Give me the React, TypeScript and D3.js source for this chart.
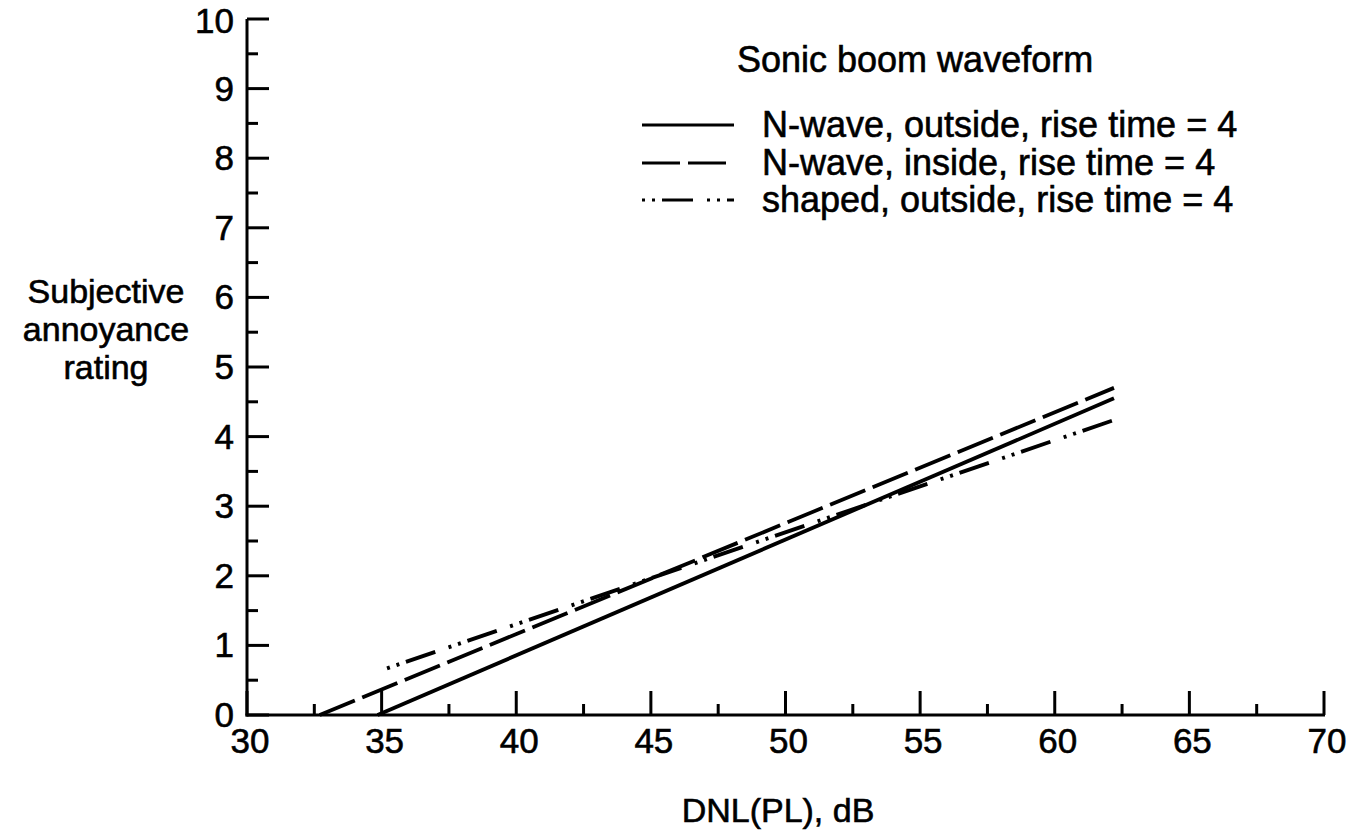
import React from "react";
import * as d3 from "d3";

const xTicks = [30, 35, 40, 45, 50, 55, 60, 65, 70];
const yTicks = [0, 1, 2, 3, 4, 5, 6, 7, 8, 9, 10];
const xMinor = [32.5, 37.5, 42.5, 47.5, 52.5, 57.5, 62.5, 67.5];
const yMinor = [0.5, 1.5, 2.5, 3.5, 4.5, 5.5, 6.5, 7.5, 8.5, 9.5];

const seriesNames = [
  "N-wave, outside, rise time = 4",
  "N-wave, inside, rise time = 4",
  "shaped, outside, rise time = 4",
];
const solidX = [34.85, 62.2];
const solidY = [0, 4.55];
const dashedX = [32.7, 62.2];
const dashedY = [0, 4.7];
const shapedX = [35.2, 62.45];
const shapedY = [0.67, 4.27];

const FONT = "'Liberation Sans', Arial, Helvetica, sans-serif";
const dashes = ["none", "38,8", "3,7,3,7,31,14"];

export default function App() {
  const x = d3.scaleLinear().domain([30, 70]).range([247, 1324]);
  const y = d3.scaleLinear().domain([0, 10]).range([715, 19]);
  const line = d3
    .line<[number, number]>()
    .x((d) => x(d[0]))
    .y((d) => y(d[1]));
  const series = [
    solidX.map((v, i) => [v, solidY[i]] as [number, number]),
    dashedX.map((v, i) => [v, dashedY[i]] as [number, number]),
    shapedX.map((v, i) => [v, shapedY[i]] as [number, number]),
  ];
  const legendY = [125, 163, 200];
  const textStyle = { stroke: "#000", strokeWidth: 0.6 };

  return (
    <svg
      width={1359}
      height={830}
      style={{ position: "absolute", left: 0, top: 0, background: "#fff" }}
      fontFamily={FONT}
    >
      {/* axes */}
      <line x1={x(30)} x2={x(30)} y1={y(0) + 1.5} y2={y(10)} stroke="#000" strokeWidth={3} />
      <line x1={x(30) - 1.5} x2={x(70) + 1} y1={y(0)} y2={y(0)} stroke="#000" strokeWidth={3} />
      {yTicks.map((t) => (
        <g key={"yt" + t}>
          <line x1={x(30)} x2={x(30) + 22} y1={y(t)} y2={y(t)} stroke="#000" strokeWidth={3} />
          <text
            x={234}
            y={Math.max(y(t) + 12, 33)}
            fontSize={35}
            textAnchor="end"
            {...textStyle}
          >
            {t}
          </text>
        </g>
      ))}
      {yMinor.map((t) => (
        <line key={"ym" + t} x1={x(30)} x2={x(30) + 11} y1={y(t)} y2={y(t)} stroke="#000" strokeWidth={3} />
      ))}
      {xTicks.map((t) => (
        <g key={"xt" + t}>
          <line x1={x(t)} x2={x(t)} y1={y(0)} y2={y(0) - 24} stroke="#000" strokeWidth={3} />
          <text x={x(t) + 3} y={753} fontSize={35} textAnchor="middle" {...textStyle}>
            {t}
          </text>
        </g>
      ))}
      {xMinor.map((t) => (
        <line key={"xm" + t} x1={x(t)} x2={x(t)} y1={y(0)} y2={y(0) - 11} stroke="#000" strokeWidth={3} />
      ))}

      {/* axis titles */}
      <text x={778} y={822} fontSize={34} textAnchor="middle" {...textStyle}>
        DNL(PL), dB
      </text>
      <text fontSize={34} textAnchor="middle" {...textStyle}>
        <tspan x={106} y={303}>Subjective</tspan>
        <tspan x={106} y={341}>annoyance</tspan>
        <tspan x={106} y={379}>rating</tspan>
      </text>

      {/* data lines */}
      {series.map((s, i) => (
        <path
          key={"s" + i}
          d={line(s) || ""}
          fill="none"
          stroke="#000"
          strokeWidth={3.8}
          strokeDasharray={dashes[i]}
        />
      ))}

      {/* legend */}
      <text x={737} y={72} fontSize={36} {...textStyle}>
        Sonic boom waveform
      </text>
      {seriesNames.map((n, i) => (
        <g key={"lg" + i}>
          <line
            x1={642}
            x2={734}
            y1={legendY[i]}
            y2={legendY[i]}
            stroke="#000"
            strokeWidth={3}
            strokeDasharray={dashes[i]}
          />
          <text x={762} y={legendY[i] + 12} fontSize={36} {...textStyle}>
            {n}
          </text>
        </g>
      ))}
    </svg>
  );
}
